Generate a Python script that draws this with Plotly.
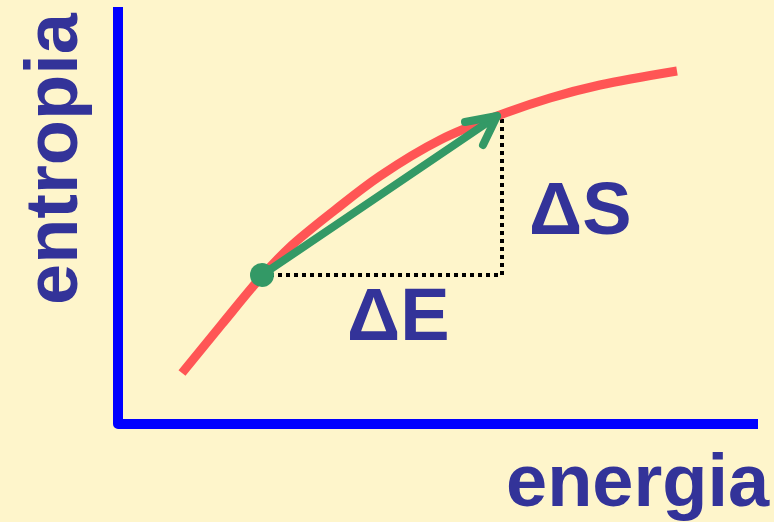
import plotly.graph_objects as go

# data (energy, entropy) in arbitrary units
curve_energy = [1.28, 2.08, 2.88, 3.44, 4.34, 5.24, 6.44, 7.64, 8.64, 9.64, 11.18]
curve_entropy = [1.02, 2.00, 2.96, 3.54, 4.28, 4.96, 5.68, 6.18, 6.52, 6.78, 7.06]

point_start = (2.88, 2.98)
point_end = (7.58, 6.16)
arrow_arm1 = (6.94, 6.04)
arrow_arm2 = (7.30, 5.58)

axis_x_max = 12.8
axis_y_max = 8.34

labels = {"x": "energia", "y": "entropia", "dE": "ΔE", "dS": "ΔS"}

BG = "#FEF5CB"
TXT = "#333399"
FONT = "Liberation Sans, Arial, sans-serif"

fig = go.Figure()

# axes
fig.add_trace(go.Scatter(x=[0, 0, axis_x_max], y=[axis_y_max, 0, 0], mode="lines",
                         line=dict(color="#0000FF", width=10), hoverinfo="skip"))

# dotted helper lines
fig.add_trace(go.Scatter(x=[point_start[0], point_end[0] + 0.1, point_end[0] + 0.1],
                         y=[point_start[1], point_start[1], point_end[1]],
                         mode="lines", line=dict(color="black", width=4, dash="4px,4px"),
                         hoverinfo="skip"))

# red curve
fig.add_trace(go.Scatter(x=curve_energy, y=curve_entropy, mode="lines",
                         line=dict(color="#FF5555", width=9, shape="spline", smoothing=1),
                         hoverinfo="skip"))

# green arrow
fig.add_trace(go.Scatter(x=[point_start[0], point_end[0]], y=[point_start[1], point_end[1]],
                         mode="lines", line=dict(color="#339966", width=8), hoverinfo="skip"))
fig.add_trace(go.Scatter(x=[arrow_arm1[0], point_end[0], arrow_arm2[0]],
                         y=[arrow_arm1[1], point_end[1], arrow_arm2[1]],
                         mode="lines", line=dict(color="#339966", width=8), hoverinfo="skip"))
fig.add_trace(go.Scatter(x=[point_start[0]], y=[point_start[1]], mode="markers",
                         marker=dict(color="#339966", size=24), hoverinfo="skip"))

font = dict(family=FONT, size=74, color=TXT)
fig.add_annotation(x=5.6, y=2.19, text="<b>" + labels["dE"] + "</b>", showarrow=False,
                   font=font, xanchor="center", yanchor="middle")
fig.add_annotation(x=9.24, y=4.32, text="<b>" + labels["dS"] + "</b>", showarrow=False,
                   font=font, xanchor="center", yanchor="middle")
fig.add_annotation(x=10.4, y=-1.12, text="<b>" + labels["x"] + "</b>", showarrow=False,
                   font=font, xanchor="center", yanchor="middle")
fig.add_annotation(x=-1.34, y=5.3, text="<b>" + labels["y"] + "</b>", showarrow=False,
                   font=font, xanchor="center", yanchor="middle", textangle=-90)

fig.update_layout(
    width=774, height=522,
    margin=dict(l=0, r=0, t=0, b=0),
    paper_bgcolor=BG, plot_bgcolor=BG,
    showlegend=False,
    xaxis=dict(range=[-2.36, 13.12], visible=False, fixedrange=True),
    yaxis=dict(range=[-1.96, 8.48], visible=False, fixedrange=True),
)

post = """
document.body.style.margin='0';
document.body.style.overflow='hidden';
var tr = document.querySelectorAll('.scatterlayer .trace');
tr.forEach(function(t, i){
  t.querySelectorAll('.js-line').forEach(function(p){
    p.style.strokeLinejoin='round';
    if (i===3 || i===4) { p.style.strokeLinecap='round'; }
  });
});
"""
fig.write_html("out.html", post_script=post, config={"displayModeBar": False})
